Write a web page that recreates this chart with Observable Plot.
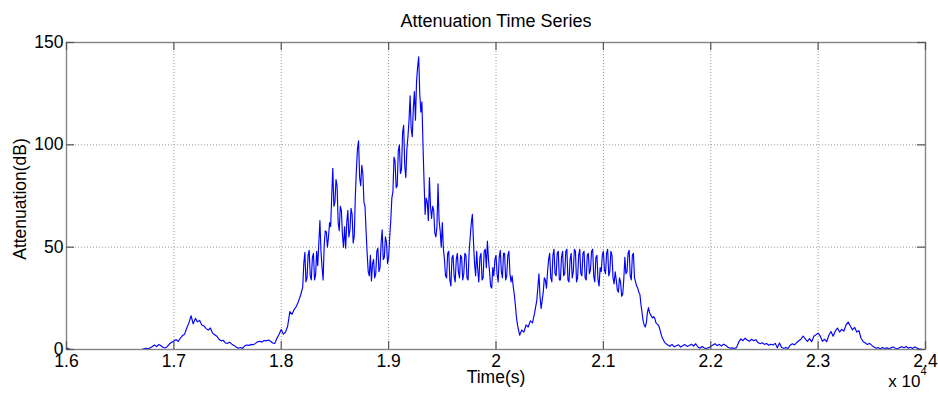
<!DOCTYPE html>
<html>
<head>
<meta charset="utf-8">
<script src="https://cdn.jsdelivr.net/npm/d3@7"></script>
<script src="https://cdn.jsdelivr.net/npm/@observablehq/plot@0.6"></script>
<style>
  body { margin: 0; background: #fff; }
  #chart svg { display: block; }
</style>
</head>
<body>
<div id="chart"></div>
<script>
// Attenuation record (dB), stored as segments sampled on a regular time grid.
// Each segment: first sample time (s) and sample step (s).

// 16000–18190 s, quiet start and first small event, 20 s samples
const segQuietStart = {start: 16000, step: 20};
const attQuietStart = [
  0.8, 0.3, 0, 0, 0, 0, 0, 0, 0, 0,
  0, 0, 0, 0, 0, 0, 0, 0, 0, 0,
  0, 0, 0, 0, 0, 0, 0, 0, 0, 0,
  0, 0, 0, 0, 0, 0, 0.3, 0.6, 0.4, 0.8,
  1.5, 2.2, 1.4, 2.5, 1.8, 1.0, 0.8, 1.5, 2.8, 3.5,
  4.2, 4.8, 4.0, 5.5, 6.8, 7.5, 10.5, 13.0, 16.5, 12.5,
  15.2, 13.5, 14.2, 12.0, 11.5, 10.2, 9.5, 10.5, 8.0, 7.2,
  6.5, 5.0, 4.2, 4.5, 3.2, 3.0, 3.6, 2.6, 2.0, 1.2,
  0.6, 1.0, 0.5, 1.8, 2.2, 2.0, 2.5, 2.3, 3.0, 3.8,
  4.0, 3.6, 4.4, 4.2, 4.6, 4.0, 3.2, 3.0, 5.5, 7.5,
  9.8, 7.5, 8.5, 11.5, 18.5, 17.2, 19.5, 21.0, 23.5, 26.5
];

// 18200–20190 s, main event, 10 s samples
const segMainEvent = {start: 18200, step: 10};
const attMainEvent = [
  30.5, 42, 47.5, 33, 35, 46, 48.5, 36, 34, 45, 47, 34, 36.5, 48, 41, 52, 63, 48, 40, 34,
  51, 58, 57.5, 50, 55, 62, 60, 75, 88.5, 70, 72, 83, 80, 62, 58, 70, 68, 56, 50, 60,
  49.5, 62, 68, 55, 58.5, 69, 66, 52, 55.5, 75, 88, 98, 102, 84, 80, 90, 86, 72, 70, 58,
  47, 38, 36, 46, 33.5, 42, 44, 35, 37, 48, 49.5, 38, 40, 52, 58.5, 44, 45, 55, 52.5, 42,
  45, 55, 63, 74, 77, 94, 92, 79, 80, 97, 100, 86, 88, 106, 109.5, 90, 84, 98, 104, 112,
  124, 108, 104, 118, 126, 112, 131, 138, 143, 125, 116, 121, 100, 82, 66, 74, 72, 63, 84, 70,
  64, 70, 68, 57, 55, 60, 81, 63, 58, 50, 62, 49, 44, 36, 35, 47, 48, 34, 31, 45,
  46, 36, 33, 44, 47, 38, 35, 46, 45, 34, 37, 47, 46, 35, 34, 48, 55, 62, 66, 53,
  42, 36, 48, 39, 33, 45, 47, 34, 35, 48, 49, 40, 53, 44, 38, 31, 30, 40, 36, 44,
  46, 37, 33, 45, 48.5, 38, 35, 47, 47, 34, 36, 46, 48, 37, 33, 36, 31, 27, 22, 16
];

// 20200–20380 s, short lull, 20 s samples
const segLull = {start: 20200, step: 20};
const attLull = [12.0, 7.0, 9.5, 8.5, 12.0, 11.0, 14.0, 13.0, 18.0, 24.0];

// 20400–21590 s, second event and its decay, 10 s samples
const segSecondEvent = {start: 20400, step: 10};
const attSecondEvent = [
  37, 26, 20, 24, 28, 35, 34, 30, 38, 44, 47, 35, 33, 46, 49, 37, 36, 47, 48, 34,
  34, 45, 48, 36, 37, 48, 49, 34, 33, 44, 47, 35, 38, 49, 48, 33, 35, 46, 49, 37,
  36, 47, 48, 35, 34, 46, 47, 37, 39, 48, 49, 36, 33, 45, 46, 34, 31, 40, 38, 46,
  48, 39, 37, 47, 49, 36, 38, 48, 46, 35, 32, 38, 34, 29, 28, 35, 33, 26, 27, 34,
  45, 37, 38, 47, 48.5, 36, 34, 46, 47, 35, 33, 31, 30, 28, 27, 22, 18, 14, 12, 11,
  13, 18, 20.5, 18, 17, 16, 15.5, 16, 15, 13, 12.5, 12, 11, 9, 7, 5.5, 4.5, 3.5, 3, 2.6
];

// 21600–23960 s, tail with weak events, 20 s samples
const segTail = {start: 21600, step: 20};
const attTail = [
  2.2, 1.6, 2.5, 1.3, 1.8, 2.3, 1.2, 1.9, 2.4, 1.5,
  2.0, 2.6, 1.7, 2.8, 1.2, 0.6, 1.5, 0.7, 0.5, 0.9,
  1.5, 2.2, 2.8, 1.9, 2.5, 1.7, 2.6, 2.0, 1.1, 0.6,
  0.8, 0.5, 0.9, 3.5, 5.2, 4.3, 5.5, 4.6, 4.0, 5.0,
  4.3, 4.8, 3.4, 2.8, 3.3, 2.5, 2.9, 2.1, 2.6, 2.2,
  3.0, 0.8, 3.2, 1.0, 0.6, 0.9, 0.5, 2.1, 2.8, 2.3,
  3.4, 4.3, 5.0, 6.6, 5.2, 4.0, 5.3, 3.8, 6.5, 7.2,
  8.0, 6.5, 4.0, 5.0, 3.8, 7.0, 8.8, 6.5, 9.0, 10.5,
  8.5, 9.8, 9.0, 12.0, 13.4, 11.5, 9.6, 10.8, 8.5, 9.2,
  5.5, 3.8, 3.2, 2.4, 3.0, 2.0, 1.2, 0.6, 0.9, 0.4,
  1.0, 0.5, 0.8, 0.3, 0.9, 1.2, 0.6, 0.4, 1.0, 1.4,
  0.8, 1.5, 0.6, 1.1, 0.5, 1.3, 0.7, 0.3, 0.2
];

// Axis ticks
const xTicks = [16000, 17000, 18000, 19000, 20000, 21000, 22000, 23000, 24000];
const yTicks = [0, 50, 100, 150];
const xDomain = [16000, 24000];
const yDomain = [0, 150];

// Texts
const titleText = "Attenuation Time Series";
const xLabel = "Time(s)";
const yLabel = "Attenuation(dB)";
const exponentBase = "x 10";
const exponent = "4";

const W = 938, H = 394;
const margin = {top: 42, right: 13, bottom: 45, left: 66};
const font = "'Liberation Sans', Arial, Helvetica, sans-serif";

const toRows = (seg, values) => values.map((v, i) => ({time: seg.start + i * seg.step, dB: v}));
const series = [
  ...toRows(segQuietStart, attQuietStart),
  ...toRows(segMainEvent, attMainEvent),
  ...toRows(segLull, attLull),
  ...toRows(segSecondEvent, attSecondEvent),
  ...toRows(segTail, attTail)
];

// Inward tick length expressed in data units of each axis
const tickPx = 8;
const tickY = tickPx * (yDomain[1] - yDomain[0]) / (H - margin.top - margin.bottom);
const tickX = tickPx * (xDomain[1] - xDomain[0]) / (W - margin.left - margin.right);

const fmtX = d => d3.format("~g")(d / 1e4);

const chart = Plot.plot({
  width: W,
  height: H,
  marginTop: margin.top,
  marginRight: margin.right,
  marginBottom: margin.bottom,
  marginLeft: margin.left,
  style: {fontFamily: font, fontSize: "17.5px", color: "#000", background: "#fff"},
  x: {domain: xDomain},
  y: {domain: yDomain},
  marks: [
    Plot.gridX(xTicks, {stroke: "#9a9a9a", strokeOpacity: 1, strokeDasharray: "1,2"}),
    Plot.gridY(yTicks, {stroke: "#9a9a9a", strokeOpacity: 1, strokeDasharray: "1,2"}),
    Plot.line(series, {x: "time", y: "dB", stroke: "#0000ff", strokeWidth: 1.15}),
    Plot.frame({stroke: "#858585", strokeWidth: 1.4}),
    // inward tick marks on all four sides
    Plot.ruleX(xTicks, {x: d => d, y1: yDomain[0], y2: yDomain[0] + tickY, stroke: "#555", strokeWidth: 1.2}),
    Plot.ruleX(xTicks, {x: d => d, y1: yDomain[1] - tickY, y2: yDomain[1], stroke: "#555", strokeWidth: 1.2}),
    Plot.ruleY(yTicks, {y: d => d, x1: xDomain[0], x2: xDomain[0] + tickX, stroke: "#555", strokeWidth: 1.2}),
    Plot.ruleY(yTicks, {y: d => d, x1: xDomain[1] - tickX, x2: xDomain[1], stroke: "#555", strokeWidth: 1.2}),
    Plot.axisX(xTicks, {anchor: "bottom", tickSize: 0, tickPadding: 5, tickFormat: fmtX, label: null, fontSize: 17.5}),
    Plot.axisY(yTicks, {anchor: "left", tickSize: 0, tickPadding: 3, label: null, fontSize: 17.5}),
    Plot.text([titleText], {frameAnchor: "top", dy: -28, fontSize: 18}),
    Plot.text([xLabel], {frameAnchor: "bottom", dy: 33.5, fontSize: 17.5}),
    Plot.text([yLabel], {frameAnchor: "left", textAnchor: "middle", dx: -46, dy: 3, rotate: -90, fontSize: 17.5}),
    Plot.text([exponentBase], {frameAnchor: "bottom-right", textAnchor: "end", dx: -5, dy: 37, fontSize: 17}),
    Plot.text([exponent], {frameAnchor: "bottom-right", textAnchor: "start", dx: -5, dy: 25, fontSize: 11})
  ]
});

document.getElementById("chart").appendChild(chart);
</script>
</body>
</html>
